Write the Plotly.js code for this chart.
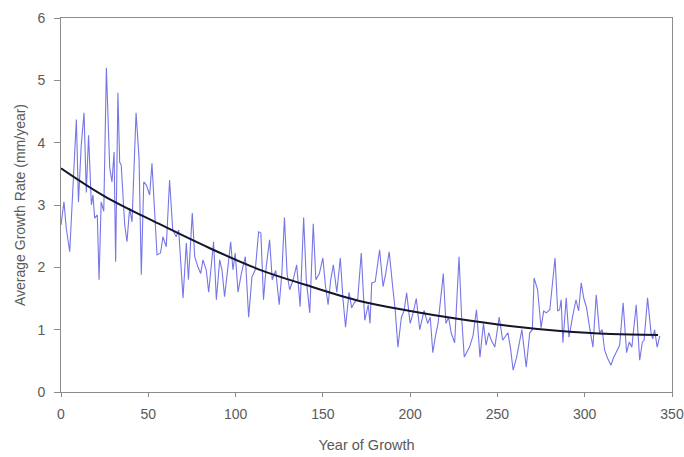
<!DOCTYPE html>
<html>
<head>
<meta charset="utf-8">
<script src="https://cdn.plot.ly/plotly-3.0.1.min.js"></script>
<style>html,body{margin:0;padding:0;background:#fff;}#chart{width:684px;height:457px;}</style>
</head>
<body>
<div id="chart"></div>
<script>
// Observed growth series (year, mm/year)
var years = [0,1.7,3,5,7,8.8,10,11.6,13.2,14.5,15.8,17.4,18.3,19.3,20.8,21.8,23,24.5,26,27.9,29.2,30.4,31.3,32.6,33.6,34.5,36.5,37.8,39.3,40.7,43,44.7,46,47.4,48.9,50.8,52.1,53.7,55,57,58.4,60.3,62.2,64,66,67.4,69.9,71.8,73,75.2,76.6,78.5,80,81.3,83.2,84.6,86,87.4,89,90.9,92.2,93.7,95.6,97.2,98.5,99.8,101.4,103.3,105.6,107.5,109.4,111.3,113.2,114.5,116,117.5,119.5,121,123,125,126.5,128,129.5,131,133,135,137,139,140.5,142.5,144.5,146,148,150,151.5,153,154.5,156,158,160,161.5,163,165,166.5,168,170,172,174,176,177,178,180,182.5,184.5,186,188,190,191.5,193,195,196.5,198,200,202,203.5,205.5,208,210,211.5,213,214.5,216,219,220.5,222,223.5,225.5,228,229.5,231,234,236,238,240,242,243.5,245,246.5,248.5,251,253,256,257.5,259,261,262.5,264,266.5,268.5,270,271,273,275,276.5,278,280,283,284.5,285.6,286.5,287.5,289.4,291,293,295,296.5,298,299.5,301,303,304.7,306.6,308.5,310,311.4,313,315,316.5,318,320,322,324,325.5,327,329.5,331.5,333,334,336,338,339,340,341.5,343];
var growth = [2.68,3.05,2.63,2.25,3.37,4.37,3.05,3.96,4.48,3.2,4.12,3.0,3.16,2.79,2.84,1.8,3.05,2.9,5.2,3.6,3.37,3.85,2.09,4.8,3.69,3.64,2.68,2.41,2.95,2.73,4.48,3.76,1.88,3.37,3.32,3.16,3.67,2.84,2.2,2.23,2.49,2.33,3.4,2.6,2.49,2.6,1.51,2.39,1.8,2.87,2.17,2.0,1.9,2.12,1.96,1.6,2.0,2.41,1.48,2.12,1.96,1.53,2.0,2.41,1.96,2.23,1.6,1.9,2.17,1.2,1.85,1.96,2.57,2.55,1.48,2.0,2.44,1.8,1.95,1.4,1.9,2.8,1.9,1.64,1.8,2.04,1.37,2.8,1.8,1.27,2.7,1.8,1.9,2.15,1.7,1.4,1.8,2.04,1.6,2.15,1.5,1.04,1.6,1.35,1.43,1.5,2.23,1.15,1.4,1.1,1.75,1.77,2.28,1.69,1.9,2.25,1.69,1.3,0.72,1.2,1.3,1.59,1.1,1.3,1.5,1.0,1.31,1.1,1.2,0.63,0.9,1.1,1.9,1.1,1.2,0.95,0.79,2.17,1.2,0.56,0.72,0.9,1.32,0.56,1.1,0.75,0.95,0.83,0.72,1.2,0.83,0.95,0.7,0.35,0.56,0.8,1.0,0.4,0.95,1.0,1.83,1.64,1.03,1.3,1.27,1.32,2.15,1.3,1.32,1.48,0.79,1.51,0.88,1.2,1.48,1.3,1.75,1.5,1.36,1.0,0.72,1.56,0.95,1.0,0.67,0.55,0.43,0.55,0.63,0.75,1.43,0.63,0.8,0.72,1.4,0.51,0.8,0.83,1.51,0.95,0.85,1.0,0.72,0.9];
// Trend line
var trendYears = [0,25,56,85,114,140,171,200,228,257,286,315,342];
var trendValues = [3.59,3.14,2.70,2.31,1.96,1.72,1.46,1.30,1.17,1.06,0.98,0.93,0.915];
var xTicks = [0,50,100,150,200,250,300,350];
var yTicks = [0,1,2,3,4,5,6];

var axisColor = '#8c8c8c';
var textColor = '#5a5a5a';
var fontFamily = 'Liberation Sans, Arial, sans-serif';

var traces = [
  {x: years, y: growth, type: 'scatter', mode: 'lines',
   line: {color: 'rgb(118,118,230)', width: 1.1}, hoverinfo: 'skip'},
  {x: trendYears, y: trendValues, type: 'scatter', mode: 'lines',
   line: {color: '#15152a', width: 2, shape: 'spline'}, hoverinfo: 'skip'}
];

var layout = {
  width: 684, height: 457,
  margin: {l: 61, r: 12, t: 18, b: 65},
  paper_bgcolor: '#ffffff', plot_bgcolor: '#ffffff',
  showlegend: false,
  font: {family: fontFamily, color: textColor, size: 14},
  xaxis: {
    range: [0, 350], tickvals: xTicks, ticktext: xTicks.map(String),
    showgrid: false, zeroline: false, automargin: false,
    showline: true, linecolor: axisColor, linewidth: 1, mirror: true,
    ticks: 'outside', ticklen: 4, tickcolor: axisColor,
    ticklabelstandoff: 5,
    tickfont: {size: 14, color: textColor, family: fontFamily},
    title: {text: 'Year of Growth', font: {size: 14.5, color: textColor, family: fontFamily}, standoff: 19}
  },
  yaxis: {
    range: [0, 6], tickvals: yTicks, ticktext: yTicks.map(String),
    showgrid: false, zeroline: false, automargin: false,
    showline: true, linecolor: axisColor, linewidth: 1, mirror: true,
    ticks: 'outside', ticklen: 6, tickcolor: axisColor,
    ticklabelstandoff: 6,
    tickfont: {size: 14, color: textColor, family: fontFamily},
    title: {text: 'Average Growth Rate (mm/year)', font: {size: 14, color: textColor, family: fontFamily}, standoff: 8}
  }
};

Plotly.newPlot('chart', traces, layout, {staticPlot: true, displayModeBar: false});
</script>
</body>
</html>
